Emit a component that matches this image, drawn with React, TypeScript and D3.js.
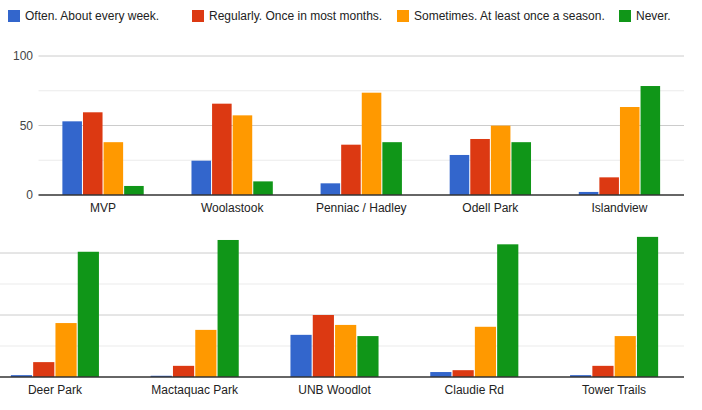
import React from "react";
import * as d3 from "d3";

const seriesNames = [
  "Often. About every week.",
  "Regularly. Once in most months.",
  "Sometimes. At least once a season.",
  "Never.",
];
const colors = ["#3366cc", "#dc3912", "#ff9900", "#109618"];

const topParks = ["MVP", "Woolastook", "Penniac / Hadley", "Odell Park", "Islandview"];
const topValues = [
  [53, 59.5, 38, 6.5],
  [24.7, 65.7, 57.3, 9.8],
  [8.4, 36.2, 73.6, 38],
  [28.8, 40.3, 49.9, 38],
  [2.2, 12.7, 63.3, 78.4],
];

const bottomParks = ["Deer Park", "Mactaquac Park", "UNB Woodlot", "Claudie Rd", "Tower Trails"];
const bottomValues = [
  [1.5, 12, 43.5, 101],
  [1, 9, 38, 110.5],
  [34, 50, 42, 33],
  [4, 5.5, 40.5, 107],
  [1.5, 9, 33, 113],
];

const legendX = [8, 192, 397, 619];
const font = "Arial, 'Liberation Sans', sans-serif";

interface PanelProps {
  parks: string[];
  values: number[][];
  x0: number;
  x1: number;
  yZero: number;
  pxPer100: number;
  showTicks: boolean;
  gridTop: number;
}

const Panel: React.FC<PanelProps> = ({ parks, values, x0, x1, yZero, pxPer100, showTicks, gridTop }) => {
  const x = d3.scaleBand().domain(parks).range([x0, x1]).paddingInner(0.37).paddingOuter(0.185);
  const xs = d3.scaleBand().domain(d3.range(4).map(String)).range([0, x.bandwidth()]).paddingInner(0.05);
  const y = d3.scaleLinear().domain([0, 100]).range([yZero, yZero - pxPer100]);
  const grid = d3.range(25, 151, 25).filter((v) => y(v) >= gridTop);
  const lineStart = Math.max(x0, 0);
  return (
    <g>
      {grid.map((v) => (
        <line key={v} x1={lineStart} x2={x1} y1={y(v)} y2={y(v)} stroke={v % 50 === 0 ? "#cccccc" : "#ebebeb"} />
      ))}
      {showTicks &&
        [0, 50, 100].map((v) => (
          <text key={v} x={33} y={y(v) + 4} textAnchor="end" fontSize={12} fill="#444" fontFamily={font}>
            {v}
          </text>
        ))}
      {parks.map((p, i) => (
        <g key={p}>
          {values[i].map((v, j) => (
            <rect
              key={j}
              x={(x(p) as number) + (xs(String(j)) as number)}
              y={y(v)}
              width={xs.bandwidth()}
              height={yZero - y(v)}
              fill={colors[j]}
            />
          ))}
          <text x={(x(p) as number) + x.bandwidth() / 2} y={yZero + 17} textAnchor="middle" fontSize={12} fill="#222" fontFamily={font}>
            {p}
          </text>
        </g>
      ))}
      <line x1={lineStart} x2={x1} y1={yZero} y2={yZero} stroke="#333" strokeWidth={1.5} />
    </g>
  );
};

export default function App() {
  return (
    <svg width={702} height={410} style={{ position: "absolute", left: 0, top: 0, background: "#fff" }}>
      {seriesNames.map((s, i) => (
        <g key={s}>
          <rect x={legendX[i]} y={10} width={12} height={12} fill={colors[i]} />
          <text x={legendX[i] + 17} y={20} fontSize={12} fill="#222" fontFamily={font}>
            {s}
          </text>
        </g>
      ))}
      <Panel parks={topParks} values={topValues} x0={38.5} x1={684} yZero={195} pxPer100={139} showTicks gridTop={50} />
      <Panel parks={bottomParks} values={bottomValues} x0={-15} x1={684} yZero={377} pxPer100={124} showTicks={false} gridTop={235} />
    </svg>
  );
}
